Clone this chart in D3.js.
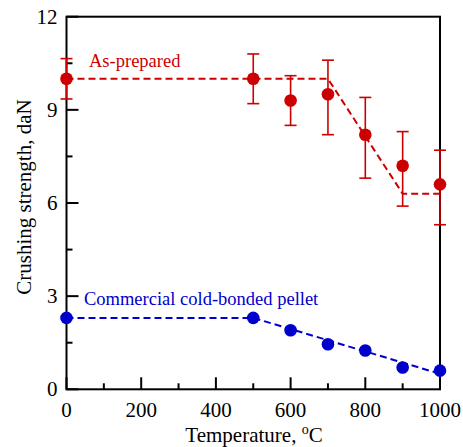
<!DOCTYPE html>
<html>
<head>
<meta charset="utf-8">
<script src="https://cdn.jsdelivr.net/npm/d3@7"></script>
<style>
  html, body { margin: 0; padding: 0; background: #fff; }
  svg text, svg tspan { font-family: 'Liberation Serif' !important; }
</style>
</head>
<body>
<svg id="plot" width="463" height="447" font-family="Liberation Serif"></svg>
<script>
// Temperatures (°C) at which the pellets were tested
const temps = [0, 500, 600, 700, 800, 900, 1000];

// As-prepared pellets: mean crushing strength and error-bar limits (daN)
const asPrepared = [10.0, 10.0, 9.3, 9.5, 8.2, 7.2, 6.6];
const asPreparedHigh = [10.65, 10.8, 10.1, 10.6, 9.4, 8.3, 7.7];
const asPreparedLow = [9.35, 9.2, 8.5, 8.2, 6.8, 5.9, 5.3];

// Commercial cold-bonded pellets: mean crushing strength (daN)
const commercial = [2.3, 2.3, 1.9, 1.45, 1.25, 0.7, 0.6];

// Dashed trend lines (temperature, strength)
const asPreparedTrendX = [0, 700, 900, 1000];
const asPreparedTrendY = [10.0, 10.0, 6.3, 6.3];
const commercialTrendX = [0, 500, 1000];
const commercialTrendY = [2.3, 2.3, 0.5];

// Axis ticks
const xMajorTicks = [0, 200, 400, 600, 800, 1000];
const xMinorTicks = [100, 300, 500, 700, 900];
const yMajorTicks = [0, 3, 6, 9, 12];
const yMinorTicks = [1.5, 4.5, 7.5, 10.5];

const RED = "#cc0000";
const BLUE = "#0000cc";

const svg = d3.select("#plot");
const m = { left: 66.5, right: 440, top: 16.7, bottom: 389.3 };

const x = d3.scaleLinear().domain([0, 1000]).range([m.left, m.right]);
const y = d3.scaleLinear().domain([0, 12]).range([m.bottom, m.top]);

// Serif text helper
const label = (sel, size, color) => sel
  .style("font-family", d => "'Liberation Serif'")
  .attr("font-size", size).attr("fill", color);

// Plot frame
svg.append("rect")
  .attr("x", m.left).attr("y", m.top)
  .attr("width", m.right - m.left).attr("height", m.bottom - m.top)
  .attr("fill", "none").attr("stroke", "#000").attr("stroke-width", 2);

// Inward-pointing ticks
const ticks = svg.append("g").attr("stroke", "#000").attr("stroke-width", 2);
xMajorTicks.forEach(t => ticks.append("line")
  .attr("x1", x(t)).attr("x2", x(t)).attr("y1", m.bottom).attr("y2", m.bottom - 12));
xMinorTicks.forEach(t => ticks.append("line")
  .attr("x1", x(t)).attr("x2", x(t)).attr("y1", m.bottom).attr("y2", m.bottom - 6));
yMajorTicks.forEach(t => ticks.append("line")
  .attr("x1", m.left).attr("x2", m.left + 12).attr("y1", y(t)).attr("y2", y(t)));
yMinorTicks.forEach(t => ticks.append("line")
  .attr("x1", m.left).attr("x2", m.left + 6).attr("y1", y(t)).attr("y2", y(t)));

// Tick labels
label(svg.append("g").selectAll("text").data(xMajorTicks).join("text"), 21, "#000")
  .attr("x", d => x(d)).attr("y", 417)
  .attr("text-anchor", "middle")
  .text(d => d);
label(svg.append("g").selectAll("text").data(yMajorTicks).join("text"), 21, "#000")
  .attr("x", m.left - 9).attr("y", d => y(d) + 7)
  .attr("text-anchor", "end")
  .text(d => d);

// Axis titles
const xt = label(svg.append("text"), 21, "#000")
  .attr("x", 254).attr("y", 442)
  .attr("text-anchor", "middle");
xt.append("tspan").text("Temperature, ");
xt.append("tspan").attr("font-size", 14).attr("dy", -8).text("o");
xt.append("tspan").attr("dy", 8).text("C");

label(svg.append("text"), 21, "#000")
  .attr("transform", "translate(31, 197) rotate(-90)")
  .attr("text-anchor", "middle")
  .text("Crushing strength, daN");

const line = d3.line().x(d => x(d[0])).y(d => y(d[1]));

// Trend lines
svg.append("path")
  .attr("d", line(d3.zip(asPreparedTrendX, asPreparedTrendY)))
  .attr("fill", "none").attr("stroke", RED).attr("stroke-width", 2)
  .attr("stroke-dasharray", "7,4");
svg.append("path")
  .attr("d", line(d3.zip(commercialTrendX, commercialTrendY)))
  .attr("fill", "none").attr("stroke", BLUE).attr("stroke-width", 2)
  .attr("stroke-dasharray", "7,4");

// Error bars for the as-prepared series
const eb = svg.append("g").attr("stroke", RED).attr("stroke-width", 1.6);
temps.forEach((t, i) => {
  const cx = x(t);
  eb.append("line").attr("x1", cx).attr("x2", cx)
    .attr("y1", y(asPreparedLow[i])).attr("y2", y(asPreparedHigh[i]));
  [asPreparedLow[i], asPreparedHigh[i]].forEach(v => eb.append("line")
    .attr("x1", cx - 6).attr("x2", cx + 6).attr("y1", y(v)).attr("y2", y(v)));
});

// Markers
svg.append("g").selectAll("circle").data(temps).join("circle")
  .attr("cx", d => x(d)).attr("cy", (d, i) => y(asPrepared[i]))
  .attr("r", 6.3).attr("fill", RED);
svg.append("g").selectAll("circle").data(temps).join("circle")
  .attr("cx", d => x(d)).attr("cy", (d, i) => y(commercial[i]))
  .attr("r", 6.3).attr("fill", BLUE);

// Series labels
label(svg.append("text"), 18.5, RED).attr("x", 89).attr("y", 66.5).text("As-prepared");
label(svg.append("text"), 18.5, BLUE).attr("x", 84).attr("y", 305).text("Commercial cold-bonded pellet");
</script>
</body>
</html>
